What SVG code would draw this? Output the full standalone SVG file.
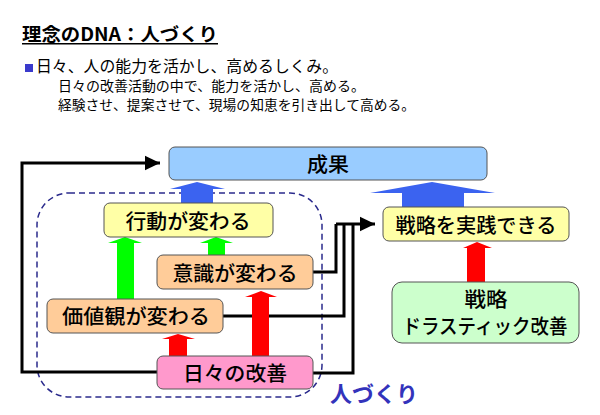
<svg xmlns="http://www.w3.org/2000/svg" width="600" height="415" viewBox="0 0 600 415">
<defs>
<style>
text{font-family:"Noto Sans CJK JP","Liberation Sans",sans-serif;fill:#000}
.bx{stroke:#555;stroke-width:1}
.t{font-size:20px;text-anchor:middle;font-weight:500}
.ln{fill:none;stroke:#000;stroke-width:3}
</style>
<marker id="ah" markerWidth="6" markerHeight="6" refX="5" refY="3" orient="auto" markerUnits="strokeWidth"><path d="M0,0.6 L5,3 L0,5.4 z" fill="#000"/></marker>
</defs>
<rect width="600" height="415" fill="#fff"/>
<g id="header">
<text x="22" y="41" font-size="18" font-weight="bold" textLength="196" lengthAdjust="spacingAndGlyphs">理念のDNA：人づくり</text>
<rect x="22" y="43" width="196" height="1.5" fill="#000"/>
<rect x="25" y="64" width="8" height="8" fill="#3a3acc"/>
<text x="36" y="71.5" font-size="15.5" textLength="302" lengthAdjust="spacingAndGlyphs">日々、人の能力を活かし、高めるしくみ。</text>
<text x="58" y="91" font-size="13.3" textLength="307" lengthAdjust="spacingAndGlyphs">日々の改善活動の中で、能力を活かし、高める。</text>
<text x="58" y="109.5" font-size="13.3" textLength="357" lengthAdjust="spacingAndGlyphs">経験させ、提案させて、現場の知恵を引き出して高める。</text>
</g>
<g id="group-boundary">
<rect x="37" y="193" width="285" height="204" rx="32" fill="none" stroke="#2a2a8c" stroke-width="1.5" stroke-dasharray="6,4"/>
<text x="330" y="402" font-size="22" font-weight="bold" style="fill:#3333bb" textLength="88" lengthAdjust="spacingAndGlyphs">人づくり</text>
</g>
<g id="connectors">
<polyline class="ln" points="157,372 22,372 22,163 160,163" marker-end="url(#ah)"/>
<polyline class="ln" points="313,272 336,272 336,224"/>
<polyline class="ln" points="223,316 344,316 344,224"/>
<polyline class="ln" points="313,373 353,373 353,224"/>
<polyline class="ln" points="336,224 375,224" marker-end="url(#ah)"/>
<polygon points="181,203 181,189 170,189 197,182 225,189 213,189 213,203" fill="#3b63f0"/>
<polygon points="402,207 402,193 370,193 432,182 495,193 464,193 464,207" fill="#3b63f0"/>
<polygon points="117,299 117,243 108,243 125,237 142,243 134,243 134,299" fill="#00ff00"/>
<polygon points="208,255 208,243 200,243 216,237 233,243 225,243 225,255" fill="#00ff00"/>
<polygon points="169,356 169,339 162,339 178,334 195,339 187,339 187,356" fill="#ff0000"/>
<polygon points="252,356 252,297 245,297 261,291 277,297 269,297 269,356" fill="#ff0000"/>
<polygon points="467,282 467,248 463,248 477,242 492,248 485,248 485,282" fill="#ff0000"/>
</g>
<g id="seika">
<rect class="bx" x="169" y="147" width="318" height="33" rx="6" fill="#99ccff"/>
<text class="t" x="328" y="172" textLength="42" lengthAdjust="spacingAndGlyphs">成果</text>
</g>
<g id="koudou">
<rect class="bx" x="104" y="203" width="169" height="34" rx="6" fill="#ffffa6"/>
<text class="t" x="188" y="229" textLength="125" lengthAdjust="spacingAndGlyphs">行動が変わる</text>
</g>
<g id="ishiki">
<rect class="bx" x="157" y="255" width="156" height="34" rx="6" fill="#ffcc99"/>
<text class="t" x="235" y="281" textLength="125" lengthAdjust="spacingAndGlyphs">意識が変わる</text>
</g>
<g id="kachikan">
<rect class="bx" x="47" y="299" width="176" height="34" rx="6" fill="#ffcc99"/>
<text class="t" x="136" y="324" textLength="148" lengthAdjust="spacingAndGlyphs">価値観が変わる</text>
</g>
<g id="kaizen">
<rect class="bx" x="157" y="356" width="156" height="33" rx="6" fill="#ff99cc"/>
<text class="t" x="235" y="381" textLength="104" lengthAdjust="spacingAndGlyphs">日々の改善</text>
</g>
<g id="senryaku-jissen">
<rect class="bx" x="383" y="207" width="186" height="34" rx="6" fill="#ffffa6"/>
<text class="t" x="476" y="233" textLength="161" lengthAdjust="spacingAndGlyphs">戦略を実践できる</text>
</g>
<g id="senryaku">
<rect class="bx" x="392" y="282" width="187" height="61" rx="10" fill="#ccffcc"/>
<text class="t" x="486" y="307" textLength="43" lengthAdjust="spacingAndGlyphs">戦略</text>
<text class="t" x="485" y="334" textLength="165" lengthAdjust="spacingAndGlyphs">ドラスティック改善</text>
</g>
</svg>
